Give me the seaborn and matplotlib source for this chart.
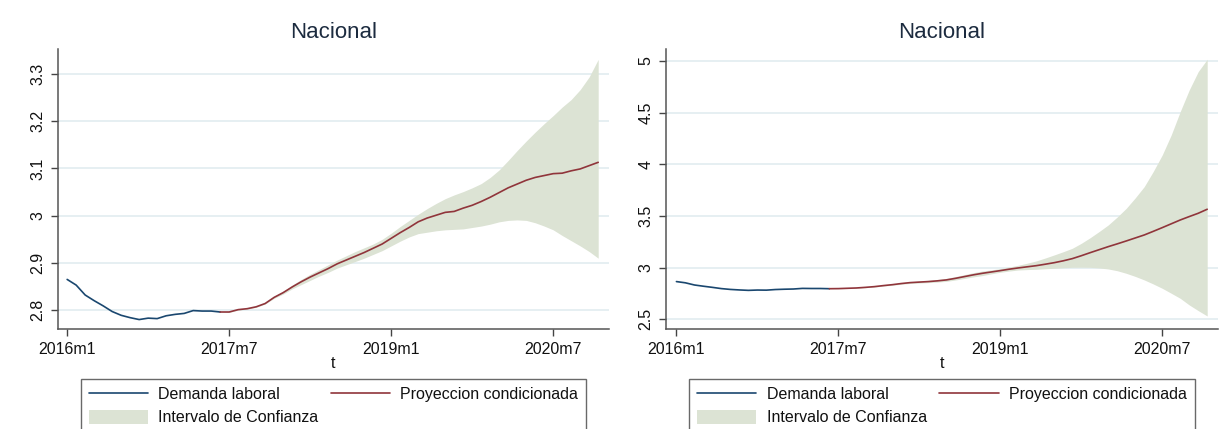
import numpy as np
import pandas as pd
import seaborn as sns
import matplotlib.pyplot as plt
from matplotlib.patches import Patch
from matplotlib.lines import Line2D

# eje temporal: meses desde 2016m1
tick_pos = [0, 18, 36, 54]
tick_labels = ["2016m1", "2017m7", "2019m1", "2020m7"]

# serie observada (2016m1 - 2017m6), igual en ambos paneles
demanda = [2.865, 2.853, 2.832, 2.820, 2.809, 2.797, 2.789, 2.784, 2.780,
           2.783, 2.782, 2.788, 2.791, 2.793, 2.799, 2.798, 2.798, 2.796]

# panel izquierdo: proyeccion 2017m6 - 2020m12
proy_izq = [2.796, 2.796, 2.801, 2.803, 2.807, 2.814, 2.827, 2.837, 2.849, 2.860,
            2.870, 2.879, 2.888, 2.898, 2.906, 2.914, 2.922, 2.931, 2.940, 2.952,
            2.964, 2.975, 2.987, 2.995, 3.001, 3.007, 3.009, 3.016, 3.022, 3.030,
            3.039, 3.049, 3.059, 3.067, 3.075, 3.081, 3.085, 3.089, 3.090, 3.095,
            3.099, 3.106, 3.113]
sup_izq = [2.796, 2.797, 2.802, 2.804, 2.808, 2.816, 2.829, 2.840, 2.853, 2.865,
           2.876, 2.886, 2.896, 2.906, 2.915, 2.924, 2.932, 2.940, 2.950, 2.963,
           2.977, 2.990, 3.003, 3.015, 3.026, 3.036, 3.044, 3.051, 3.059, 3.068,
           3.081, 3.097, 3.117, 3.138, 3.158, 3.177, 3.195, 3.212, 3.230, 3.246,
           3.267, 3.294, 3.331]
inf_izq = [2.796, 2.795, 2.800, 2.802, 2.806, 2.813, 2.825, 2.834, 2.845, 2.854,
           2.863, 2.872, 2.880, 2.889, 2.896, 2.903, 2.910, 2.918, 2.926, 2.936,
           2.946, 2.955, 2.962, 2.965, 2.968, 2.970, 2.971, 2.972, 2.975, 2.978,
           2.982, 2.987, 2.990, 2.991, 2.990, 2.985, 2.978, 2.970, 2.958, 2.947,
           2.936, 2.924, 2.910]

# panel derecho
proy_der = [2.796, 2.797, 2.800, 2.803, 2.809, 2.816, 2.826, 2.835, 2.846, 2.855,
            2.860, 2.865, 2.872, 2.881, 2.896, 2.913, 2.930, 2.945, 2.958, 2.971,
            2.985, 2.997, 3.008, 3.019, 3.033, 3.048, 3.066, 3.087, 3.115, 3.145,
            3.174, 3.203, 3.230, 3.258, 3.287, 3.316, 3.351, 3.387, 3.424, 3.461,
            3.494, 3.526, 3.565]
sup_der = [2.796, 2.798, 2.802, 2.805, 2.812, 2.820, 2.831, 2.841, 2.853, 2.863,
           2.869, 2.876, 2.885, 2.896, 2.913, 2.932, 2.951, 2.967, 2.978, 2.990,
           3.006, 3.023, 3.043, 3.065, 3.093, 3.123, 3.154, 3.187, 3.235, 3.290,
           3.350, 3.413, 3.490, 3.574, 3.675, 3.784, 3.930, 4.090, 4.284, 4.510,
           4.719, 4.897, 5.016]
inf_der = [2.796, 2.796, 2.798, 2.801, 2.806, 2.812, 2.821, 2.829, 2.839, 2.847,
           2.851, 2.855, 2.860, 2.867, 2.880, 2.895, 2.910, 2.923, 2.940, 2.955,
           2.967, 2.977, 2.981, 2.984, 2.989, 2.994, 2.999, 3.003, 3.004, 3.003,
           2.997, 2.987, 2.970, 2.945, 2.915, 2.881, 2.842, 2.800, 2.752, 2.703,
           2.639, 2.584, 2.532]

yticks_izq = [2.8, 2.9, 3.0, 3.1, 3.2, 3.3]
ylabels_izq = ["2.8", "2.9", "3", "3.1", "3.2", "3.3"]
yticks_der = [2.5, 3.0, 3.5, 4.0, 4.5, 5.0]
ylabels_der = ["2.5", "3", "3.5", "4", "4.5", "5"]

AZUL = "#1a476f"
ROJO = "#90353b"
IC = "#dce3d4"
GRID = "#e4eef1"

sns.set_theme(style="white")
plt.rcParams["font.family"] = ["Liberation Sans", "DejaVu Sans"]

hist = pd.DataFrame({"t": np.arange(len(demanda)), "y": demanda})
t_proy = np.arange(len(demanda) - 1, len(demanda) - 1 + len(proy_izq))

fig, axes = plt.subplots(1, 2, figsize=(12.2, 4.29), dpi=100)
axes[0].set_position([57.8 / 1220, 1 - 329 / 429, (609 - 57.8) / 1220, 280 / 429])
axes[1].set_position([665.9 / 1220, 1 - 329 / 429, (1218 - 665.9) / 1220, 280 / 429])

paneles = [
    (axes[0], proy_izq, sup_izq, inf_izq, yticks_izq, ylabels_izq, (2.760, 3.353), -1.04),
    (axes[1], proy_der, sup_der, inf_der, yticks_der, ylabels_der, (2.406, 5.116), -1.17),
]

for ax, proy, sup, inf, yt, yl, ylim, x0 in paneles:
    pr = pd.DataFrame({"t": t_proy, "y": proy, "sup": sup, "inf": inf})
    ax.fill_between(pr["t"], pr["inf"], pr["sup"], color=IC, linewidth=0, zorder=1)
    sns.lineplot(data=hist, x="t", y="y", ax=ax, color=AZUL, linewidth=1.2, zorder=3)
    sns.lineplot(data=pr, x="t", y="y", ax=ax, color=ROJO, linewidth=1.2, zorder=3)

    ax.set_xlim(x0, 60.2)
    ax.set_ylim(*ylim)
    ax.set_xticks(tick_pos)
    ax.set_xticklabels(tick_labels, fontsize=11.5, color="#111111")
    ax.set_yticks(yt)
    ax.set_yticklabels(yl, fontsize=11.5, color="#111111", rotation=90, va="center")
    ax.yaxis.grid(True, color=GRID, linewidth=1.3, zorder=0)
    ax.set_axisbelow(True)
    ax.tick_params(axis="both", which="major", direction="out", length=5,
                   width=1, color="#444444", left=True, bottom=True)
    ax.tick_params(axis="y", pad=4)
    ax.tick_params(axis="x", pad=4)
    for s in ["top", "right"]:
        ax.spines[s].set_visible(False)
    for s in ["left", "bottom"]:
        ax.spines[s].set_color("#555555")
        ax.spines[s].set_linewidth(1.1)

    ax.set_title("Nacional", fontsize=16, color="#1c2b3f", pad=8)
    ax.set_xlabel("t", fontsize=11.5, color="#111111", labelpad=0)
    ax.set_ylabel("")

    handles = [Line2D([], [], color=AZUL, linewidth=1.2),
               Patch(facecolor=IC, edgecolor="none"),
               Line2D([], [], color=ROJO, linewidth=1.2)]
    labels = ["Demanda laboral", "Intervalo de Confianza", "Proyeccion condicionada"]
    leg = ax.legend(handles, labels, loc="upper left", bbox_to_anchor=(0.042, -0.178, 0.916, 0.1),
                    mode="expand", ncol=2, fontsize=11.5, frameon=True, fancybox=False,
                    handlelength=3.7, handleheight=1.0, handletextpad=0.65,
                    borderpad=0.5, labelspacing=0.45, borderaxespad=0)
    leg.set_bbox_to_anchor((0.042, -0.278, 0.916, 0.1), transform=ax.transAxes)
    leg.get_frame().set_edgecolor("#444444")
    leg.get_frame().set_linewidth(1.0)
    for txt in leg.get_texts():
        txt.set_color("#111111")

fig.savefig("out.png", dpi=100)
